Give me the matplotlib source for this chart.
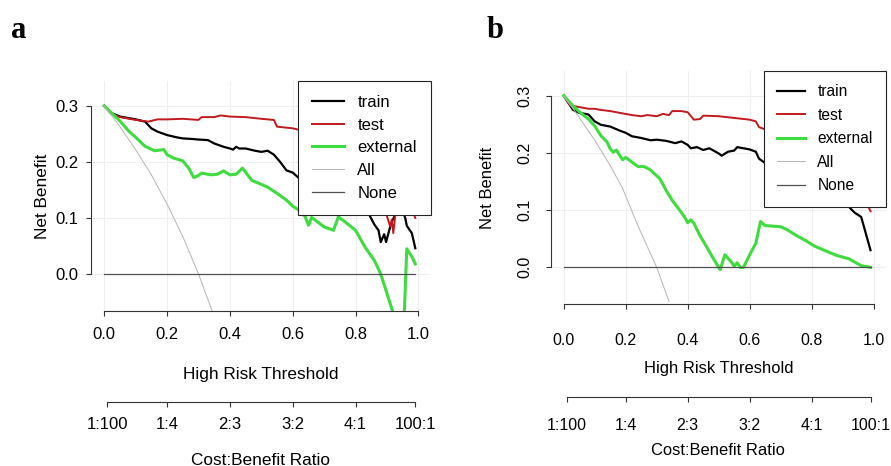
import matplotlib
matplotlib.use("Agg")
import matplotlib.pyplot as plt

plt.rcParams["font.family"] = ["Liberation Sans", "DejaVu Sans"]
plt.rcParams["font.size"] = 12

# ---- data ----
threshold_ticks = [0.0, 0.2, 0.4, 0.6, 0.8, 1.0]
threshold_labels = ["0.0", "0.2", "0.4", "0.6", "0.8", "1.0"]
ratio_ticks = [0.01, 0.2, 0.4, 0.6, 0.8, 0.99]
ratio_labels = ["1:100", "1:4", "2:3", "3:2", "4:1", "100:1"]
nb_ticks = [0.0, 0.1, 0.2, 0.3]
nb_labels = ["0.0", "0.1", "0.2", "0.3"]
series_names = ["train", "test", "external", "All", "None"]

# panel a
train_a_x = [0.00, 0.02, 0.05, 0.10, 0.13, 0.15, 0.17, 0.20, 0.23, 0.25, 0.28, 0.30,
             0.33, 0.35, 0.38, 0.40, 0.41, 0.42, 0.43, 0.45, 0.48, 0.50, 0.52, 0.54,
             0.56, 0.58, 0.60, 0.62, 0.65, 0.70, 0.75, 0.80, 0.84, 0.846, 0.86, 0.873,
             0.880, 0.891, 0.897, 0.908, 0.915, 0.93, 0.95, 0.958, 0.963, 0.979, 0.99]
train_a_y = [0.300, 0.288, 0.281, 0.276, 0.272, 0.260, 0.254, 0.248, 0.244, 0.242, 0.241, 0.240,
             0.239, 0.233, 0.227, 0.224, 0.222, 0.227, 0.224, 0.224, 0.220, 0.218, 0.220, 0.213,
             0.200, 0.185, 0.181, 0.171, 0.160, 0.150, 0.140, 0.125, 0.110, 0.103, 0.088, 0.078,
             0.057, 0.071, 0.057, 0.080, 0.093, 0.110, 0.112, 0.100, 0.086, 0.073, 0.046]
test_a_x = [0.00, 0.03, 0.05, 0.10, 0.14, 0.17, 0.20, 0.25, 0.30, 0.31, 0.35, 0.37, 0.40,
            0.45, 0.50, 0.54, 0.55, 0.60, 0.63, 0.70, 0.80, 0.88, 0.895, 0.900, 0.910,
            0.915, 0.920, 0.926, 0.93, 0.98, 0.99]
test_a_y = [0.300, 0.284, 0.280, 0.275, 0.272, 0.276, 0.276, 0.277, 0.275, 0.280, 0.280, 0.283, 0.281,
            0.280, 0.277, 0.275, 0.263, 0.260, 0.256, 0.240, 0.200, 0.140, 0.115, 0.103, 0.085,
            0.097, 0.073, 0.103, 0.115, 0.115, 0.100]
ext_a_x = [0.00, 0.03, 0.05, 0.08, 0.10, 0.13, 0.16, 0.19, 0.20, 0.22, 0.25, 0.27, 0.285,
           0.30, 0.31, 0.34, 0.36, 0.38, 0.40, 0.42, 0.44, 0.47, 0.50, 0.52, 0.55, 0.58,
           0.60, 0.62, 0.64, 0.65, 0.66, 0.70, 0.73, 0.745, 0.76, 0.80, 0.83, 0.86, 0.88,
           0.90, 0.92, 0.94, 0.955, 0.963, 0.98, 0.99]
ext_a_y = [0.300, 0.284, 0.273, 0.254, 0.244, 0.228, 0.220, 0.222, 0.213, 0.207, 0.202, 0.188, 0.172,
           0.176, 0.180, 0.177, 0.178, 0.184, 0.177, 0.178, 0.189, 0.167, 0.160, 0.155, 0.144, 0.132,
           0.121, 0.114, 0.102, 0.087, 0.101, 0.084, 0.078, 0.102, 0.096, 0.078, 0.048, 0.024, 0.000,
           -0.035, -0.070, -0.100, -0.070, 0.045, 0.030, 0.018]
all_a_x = [0.00, 0.05, 0.10, 0.15, 0.20, 0.25, 0.30, 0.345]
all_a_y = [0.300, 0.263, 0.222, 0.177, 0.125, 0.067, 0.000, -0.068]

# panel b
train_b_x = [0.00, 0.03, 0.05, 0.08, 0.10, 0.12, 0.15, 0.18, 0.20, 0.22, 0.25, 0.28, 0.30,
             0.33, 0.36, 0.38, 0.40, 0.41, 0.43, 0.45, 0.47, 0.50, 0.51, 0.53, 0.55, 0.56,
             0.58, 0.60, 0.62, 0.63, 0.65, 0.70, 0.80, 0.90, 0.925, 0.94, 0.952, 0.96, 0.99]
train_b_y = [0.300, 0.275, 0.270, 0.267, 0.255, 0.249, 0.246, 0.239, 0.235, 0.229, 0.226, 0.222, 0.223,
             0.221, 0.217, 0.220, 0.214, 0.208, 0.210, 0.205, 0.208, 0.199, 0.195, 0.202, 0.204, 0.210,
             0.208, 0.206, 0.202, 0.190, 0.182, 0.170, 0.150, 0.120, 0.103, 0.095, 0.091, 0.088, 0.030]
test_b_x = [0.00, 0.02, 0.05, 0.08, 0.10, 0.12, 0.15, 0.20, 0.22, 0.25, 0.27, 0.30, 0.32,
            0.34, 0.35, 0.38, 0.40, 0.42, 0.44, 0.45, 0.50, 0.55, 0.60, 0.62, 0.63, 0.65,
            0.75, 0.85, 0.95, 0.98, 0.99]
test_b_y = [0.300, 0.283, 0.280, 0.277, 0.277, 0.275, 0.273, 0.268, 0.266, 0.264, 0.266, 0.264, 0.268,
            0.266, 0.273, 0.273, 0.271, 0.258, 0.259, 0.265, 0.264, 0.261, 0.258, 0.255, 0.245, 0.241,
            0.200, 0.150, 0.118, 0.110, 0.098]
ext_b_x = [0.00, 0.03, 0.05, 0.08, 0.10, 0.12, 0.14, 0.15, 0.16, 0.17, 0.18, 0.19, 0.20,
           0.22, 0.24, 0.26, 0.28, 0.30, 0.31, 0.33, 0.35, 0.37, 0.39, 0.40, 0.41, 0.42,
           0.44, 0.46, 0.48, 0.50, 0.505, 0.52, 0.54, 0.55, 0.56, 0.57, 0.58, 0.60, 0.62,
           0.635, 0.65, 0.70, 0.72, 0.75, 0.78, 0.81, 0.84, 0.88, 0.92, 0.94, 0.96, 0.99]
ext_b_y = [0.300, 0.282, 0.272, 0.259, 0.247, 0.230, 0.219, 0.207, 0.201, 0.205, 0.196, 0.188, 0.192,
           0.184, 0.176, 0.176, 0.170, 0.160, 0.155, 0.135, 0.117, 0.103, 0.088, 0.078, 0.083, 0.077,
           0.055, 0.037, 0.018, 0.000, -0.004, 0.022, 0.010, 0.002, 0.008, 0.000, 0.000, 0.022, 0.042,
           0.080, 0.073, 0.071, 0.066, 0.056, 0.047, 0.037, 0.030, 0.021, 0.015, 0.009, 0.003, 0.000]
all_b_x = [0.00, 0.05, 0.10, 0.15, 0.19, 0.24, 0.30, 0.34]
all_b_y = [0.300, 0.262, 0.222, 0.178, 0.138, 0.072, 0.000, -0.060]

none_x = [0.0, 0.99]
none_y = [0.0, 0.0]

colors = ["black", "#c01a1e", "#3edc3e", "#b4b4b4", "#505050"]
widths = [1.6, 1.4, 2.2, 0.7, 0.9]
axis_col = "#333333"

W, H = 891, 466
fig = plt.figure(figsize=(W / 100, H / 100), dpi=100)


def draw_panel(rect_px, xlim, ylim, curves, letter, letter_x, fs, leg_kw,
               xpad, sec_y, sec_pad, hrt_y, cbr_y, nb_x, rotate_y):
    left, top, right, bottom = rect_px
    ax = fig.add_axes([left / W, 1 - bottom / H, (right - left) / W, (bottom - top) / H])
    hpx = bottom - top
    wpx = right - left

    for (xs, ys), name, c, lw in zip(curves, series_names, colors, widths):
        ax.plot(xs, ys, color=c, lw=lw, label=name, solid_joinstyle="round")

    ax.set_xlim(*xlim)
    ax.set_ylim(*ylim)
    ax.set_xticks(threshold_ticks)
    ax.set_xticklabels(threshold_labels)
    ax.set_yticks(nb_ticks)
    if rotate_y:
        ax.set_yticklabels(nb_labels, rotation=90, va="center")
        ypad = 9.5
    else:
        ax.set_yticklabels(nb_labels)
        ypad = 5.3
    ax.grid(color="#efefef", lw=0.8)
    ax.set_axisbelow(True)
    for s in ["top", "right"]:
        ax.spines[s].set_visible(False)
    ax.spines["left"].set_bounds(0, 0.3)
    ax.spines["bottom"].set_bounds(0, 1)
    for s in ["left", "bottom"]:
        ax.spines[s].set_color(axis_col)
        ax.spines[s].set_linewidth(0.8)
    ax.tick_params(axis="x", direction="out", length=3.6, width=0.8, color=axis_col,
                   pad=xpad, labelsize=fs)
    ax.tick_params(axis="y", direction="out", length=3.6, width=0.8, color=axis_col,
                   pad=ypad, labelsize=fs)

    sec = ax.secondary_xaxis((bottom - sec_y) / hpx)
    sec.set_xticks(ratio_ticks)
    sec.set_xticklabels(ratio_labels)
    sec.spines["bottom"].set_bounds(0.01, 0.99)
    sec.spines["bottom"].set_color(axis_col)
    sec.spines["bottom"].set_linewidth(0.8)
    sec.tick_params(axis="x", direction="out", length=3.6, width=0.8, color=axis_col,
                    pad=sec_pad, labelsize=fs)

    tfs = fs + 0.4
    ax.text(0.5, (bottom - hrt_y) / hpx, "High Risk Threshold", transform=ax.transAxes,
            ha="center", va="baseline", fontsize=tfs)
    ax.text(0.5, (bottom - cbr_y) / hpx, "Cost:Benefit Ratio", transform=ax.transAxes,
            ha="center", va="baseline", fontsize=tfs)
    ax.text((nb_x - left) / wpx, 0.5, "Net Benefit", transform=ax.transAxes,
            ha="center", va="center", rotation=90, fontsize=tfs)

    leg = ax.legend(loc="upper right", borderaxespad=0, fancybox=False,
                    framealpha=1, edgecolor="#222222", **leg_kw)
    leg.get_frame().set_linewidth(0.8)

    fig.text(letter_x / W, 1 - 37.5 / H, letter, family="Liberation Serif",
             weight="bold", fontsize=22, ha="left", va="baseline")
    return ax


curves_a = [(train_a_x, train_a_y), (test_a_x, test_a_y), (ext_a_x, ext_a_y),
            (all_a_x, all_a_y), (none_x, none_y)]
curves_b = [(train_b_x, train_b_y), (test_b_x, test_b_y), (ext_b_x, ext_b_y),
            (all_b_x, all_b_y), (none_x, none_y)]

draw_panel((90.7, 80.7, 431.0, 311.0), (-0.043, 1.04), (-0.066, 0.345), curves_a,
           "a", 11.5, 12,
           dict(fontsize=12, handlelength=1.9, handletextpad=0.8, labelspacing=0.46,
                borderpad=0.85),
           xpad=8, sec_y=402, sec_pad=7.2, hrt_y=378.5, cbr_y=464.5,
           nb_x=42.7, rotate_y=False)
draw_panel((550.7, 71.0, 886.0, 304.0), (-0.042, 1.04), (-0.064, 0.343), curves_b,
           "b", 487, 11.5,
           dict(fontsize=11.2, handlelength=1.8, handletextpad=0.8, labelspacing=0.55,
                borderpad=0.85),
           xpad=17, sec_y=397, sec_pad=11.5, hrt_y=372.5, cbr_y=455,
           nb_x=488, rotate_y=True)

fig.savefig("out.png", dpi=100)
